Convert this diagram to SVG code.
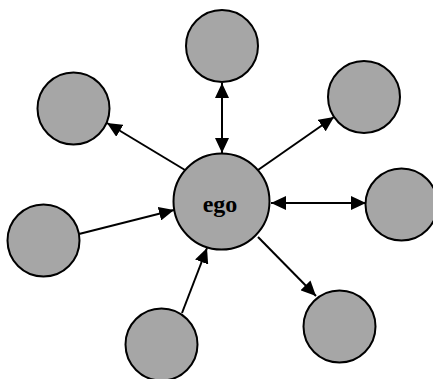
<svg xmlns="http://www.w3.org/2000/svg" width="433" height="379" viewBox="0 0 433 379">
<style>
.node{fill:#a6a6a6;stroke:#000;stroke-width:2}
.edge{stroke:#000;stroke-width:2;fill:none}
.lbl{font-family:"Liberation Serif",serif;font-weight:bold;font-size:24px;fill:#000}
</style>
<defs>
<marker id="ah" markerUnits="userSpaceOnUse" markerWidth="16" markerHeight="14" refX="15" refY="7" orient="auto">
<path d="M0,0 L15,7 L0,14 Z" fill="#000"/>
</marker>
<marker id="as" markerUnits="userSpaceOnUse" markerWidth="16" markerHeight="14" refX="1" refY="7" orient="auto">
<path d="M16,0 L1,7 L16,14 Z" fill="#000"/>
</marker>
</defs>
<g id="connectors">
<line class="edge" x1="222" y1="83" x2="222" y2="153" marker-start="url(#as)" marker-end="url(#ah)"/>
<line class="edge" x1="185" y1="170" x2="107" y2="123" marker-end="url(#ah)"/>
<line class="edge" x1="258" y1="170" x2="334" y2="117" marker-end="url(#ah)"/>
<line class="edge" x1="271" y1="203" x2="366" y2="203" marker-start="url(#as)" marker-end="url(#ah)"/>
<line class="edge" x1="79" y1="234" x2="174" y2="210" marker-end="url(#ah)"/>
<line class="edge" x1="182" y1="313" x2="207" y2="248" marker-end="url(#ah)"/>
<line class="edge" x1="258" y1="237" x2="316" y2="296" marker-end="url(#ah)"/>
</g>
<g id="ego"><circle class="node" cx="221.5" cy="201.5" r="48"/><text class="lbl" x="220" y="212" text-anchor="middle">ego</text></g>
<g id="n-top"><circle class="node" cx="222" cy="46" r="36"/></g>
<g id="n-topleft"><circle class="node" cx="73.5" cy="108.5" r="36"/></g>
<g id="n-topright"><circle class="node" cx="364" cy="97" r="36"/></g>
<g id="n-right"><circle class="node" cx="401.5" cy="204.5" r="36"/></g>
<g id="n-left"><circle class="node" cx="43.5" cy="240.5" r="36"/></g>
<g id="n-bottom"><circle class="node" cx="161.5" cy="344.5" r="36"/></g>
<g id="n-bottomright"><circle class="node" cx="339.5" cy="326.5" r="36"/></g>
</svg>
